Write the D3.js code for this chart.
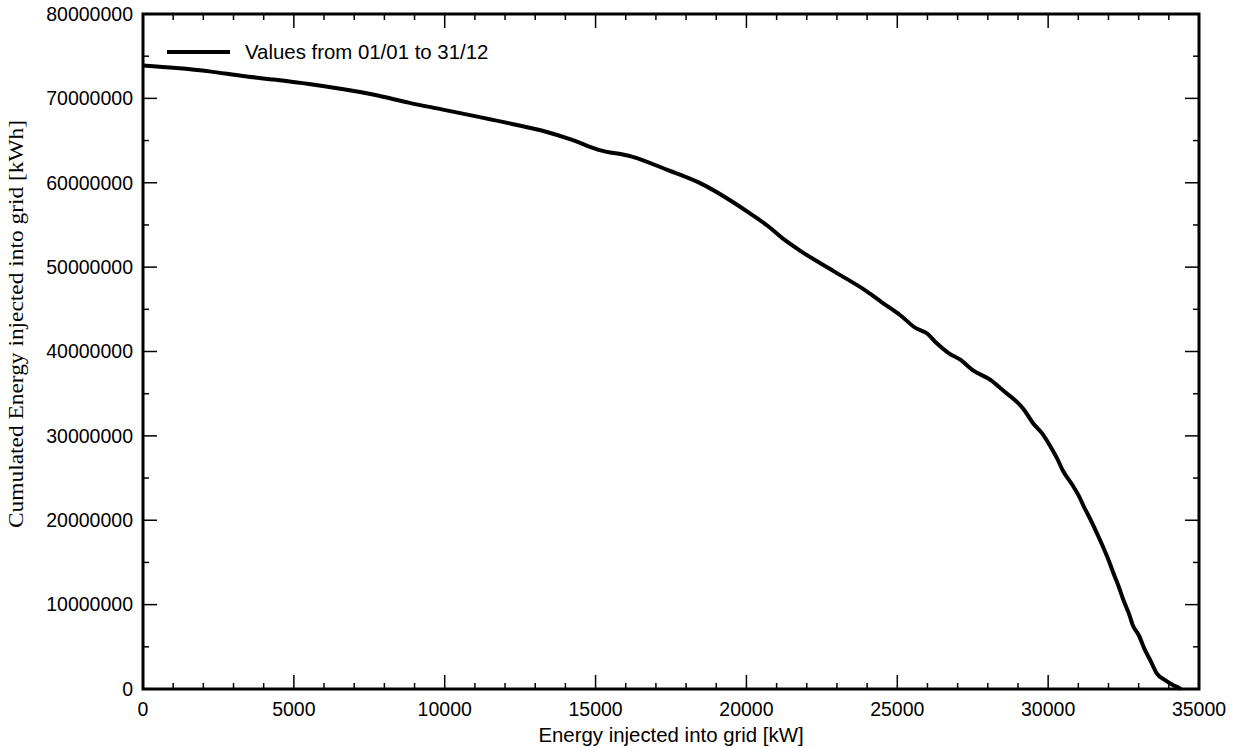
<!DOCTYPE html>
<html>
<head>
<meta charset="utf-8">
<script src="https://cdn.jsdelivr.net/npm/d3@7"></script>
<style>
  html, body { margin: 0; padding: 0; background: #fff; }
  svg { display: block; }
</style>
</head>
<body>
<svg id="chart" width="1239" height="748"></svg>
<script>
// Power threshold [kW]
const powerKW = [0, 1100, 2200, 3300, 4400, 5500, 6600, 7700, 8800, 9900,
  11000, 12200, 13300, 14200, 15100, 16200, 17400, 18500, 19600, 20100,
  20700, 21200, 21800, 22900, 24000, 24500, 25100, 25600, 26000, 26300,
  26700, 27100, 27500, 28100, 28500, 29000, 29200, 29500, 29800, 30100,
  30300, 30500, 30800, 31000, 31200, 31400, 31600, 31800, 32000, 32200,
  32300, 32500, 32700, 32800, 33000, 33200, 33400, 33600, 33900, 34150,
  34350, 34400];
// Cumulated energy above threshold [million kWh]
const cumEnergyM = [73.9, 73.6, 73.2, 72.65, 72.2, 71.7, 71.1, 70.4, 69.5, 68.7,
  67.9, 67.0, 66.1, 65.1, 63.9, 63.1, 61.5, 59.9, 57.6, 56.4,
  54.9, 53.4, 51.9, 49.5, 47.1, 45.8, 44.3, 42.8, 42.1, 41.0,
  39.8, 39.0, 37.8, 36.6, 35.4, 33.9, 33.1, 31.5, 30.3, 28.6,
  27.3, 25.8, 24.2, 23.0, 21.5, 20.1, 18.6, 17.0, 15.3, 13.4,
  12.5, 10.5, 8.7, 7.6, 6.4, 4.7, 3.3, 1.85, 1.0, 0.45,
  0.1, 0.0];

const xMajorTicks = [0, 5000, 10000, 15000, 20000, 25000, 30000, 35000];
const yMajorTicks = [0, 10000000, 20000000, 30000000, 40000000, 50000000, 60000000, 70000000, 80000000];
const legendLabel = "Values from 01/01 to 31/12";
const xTitle = "Energy injected into grid [kW]";
const yTitle = "Cumulated Energy injected into grid [kWh]";

const data = powerKW.map((p, i) => ({ x: p, y: cumEnergyM[i] * 1e6 }));

const svg = d3.select("#chart");
const plot = { left: 143, top: 14, right: 1199, bottom: 689 };

const x = d3.scaleLinear().domain([0, 35000]).range([plot.left, plot.right]);
const y = d3.scaleLinear().domain([0, 80000000]).range([plot.bottom, plot.top]);

const sans = "'Liberation Sans', Arial, sans-serif";
const serif = "'Liberation Serif', 'Times New Roman', serif";

const xMinor = d3.range(0, 35001, 1000);
const yMinor = d3.range(0, 80000001, 5000000);
const MAJ = 14, MIN = 6;

// Tick marks on all four sides, pointing inward
const ticks = svg.append("g").attr("stroke", "#000").attr("stroke-width", 1.5);
xMinor.forEach(v => {
  const len = v % 5000 === 0 ? MAJ : MIN;
  ticks.append("line").attr("x1", x(v)).attr("x2", x(v)).attr("y1", plot.bottom).attr("y2", plot.bottom - len);
  ticks.append("line").attr("x1", x(v)).attr("x2", x(v)).attr("y1", plot.top).attr("y2", plot.top + len);
});
yMinor.forEach(v => {
  const len = v % 10000000 === 0 ? MAJ : MIN;
  ticks.append("line").attr("y1", y(v)).attr("y2", y(v)).attr("x1", plot.left).attr("x2", plot.left + len);
  ticks.append("line").attr("y1", y(v)).attr("y2", y(v)).attr("x1", plot.right).attr("x2", plot.right - len);
});

// Tick labels
svg.append("g").selectAll("text").data(xMajorTicks).join("text")
  .attr("x", d => x(d)).attr("y", 716)
  .attr("text-anchor", "middle")
  .attr("font-family", sans).attr("font-size", 19.5).attr("fill", "#000")
  .text(d => d3.format("d")(d));

svg.append("g").selectAll("text").data(yMajorTicks).join("text")
  .attr("x", 133).attr("y", d => y(d)).attr("dy", "0.35em")
  .attr("text-anchor", "end")
  .attr("font-family", sans).attr("font-size", 19.5).attr("fill", "#000")
  .text(d => d3.format("d")(d));

// Curve
const line = d3.line().x(d => x(d.x)).y(d => y(d.y)).curve(d3.curveMonotoneX);
svg.append("path").datum(data)
  .attr("d", line)
  .attr("fill", "none").attr("stroke", "#000")
  .attr("stroke-width", 4).attr("stroke-linejoin", "round");

// Frame
svg.append("rect")
  .attr("x", plot.left).attr("y", plot.top)
  .attr("width", plot.right - plot.left).attr("height", plot.bottom - plot.top)
  .attr("fill", "none").attr("stroke", "#000").attr("stroke-width", 3);

// Legend
svg.append("line").attr("x1", 167).attr("x2", 230).attr("y1", 52).attr("y2", 52)
  .attr("stroke", "#000").attr("stroke-width", 4);
svg.append("text").attr("x", 245).attr("y", 59)
  .attr("font-family", sans).attr("font-size", 20.4).attr("fill", "#000")
  .text(legendLabel);

// Axis titles
svg.append("text").attr("x", 671).attr("y", 742).attr("text-anchor", "middle")
  .attr("font-family", sans).attr("font-size", 20.4).attr("fill", "#000")
  .text(xTitle);
svg.append("text")
  .attr("transform", "translate(23,324) rotate(-90)")
  .attr("text-anchor", "middle")
  .attr("font-family", serif).attr("font-size", 20)
  .attr("textLength", 408).attr("lengthAdjust", "spacingAndGlyphs")
  .attr("fill", "#000")
  .text(yTitle);
</script>
</body>
</html>
